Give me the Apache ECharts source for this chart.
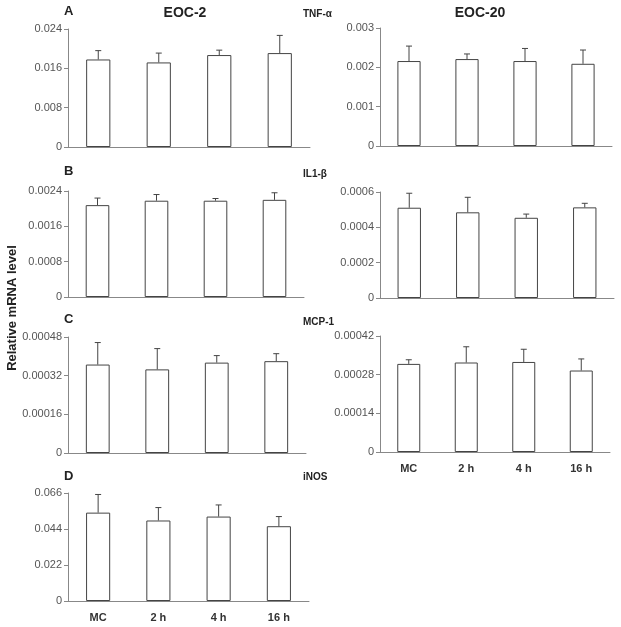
<!DOCTYPE html>
<html>
<head>
<meta charset="utf-8">
<script src="https://cdn.jsdelivr.net/npm/echarts@6/dist/echarts.min.js"></script>
<style>
html, body { margin: 0; padding: 0; background: #fff; }
#chart { width: 621px; height: 627px; }
</style>
</head>
<body>
<div id="chart"></div>
<script>
var categories = ['MC', '2 h', '4 h', '16 h'];

// means and SD
var tnfEoc2 = [0.0178, 0.0172, 0.0187, 0.0191];
var tnfEoc2Sd = [0.0018, 0.0019, 0.0010, 0.0036];
var tnfEoc20 = [0.00216, 0.00221, 0.00216, 0.00209];
var tnfEoc20Sd = [0.00038, 0.00013, 0.00032, 0.00035];
var il1Eoc2 = [0.00208, 0.00218, 0.00218, 0.00220];
var il1Eoc2Sd = [0.00016, 0.00014, 0.00005, 0.00016];
var il1Eoc20 = [0.000511, 0.000485, 0.000454, 0.000513];
var il1Eoc20Sd = [0.000082, 0.000085, 0.000021, 0.000023];
var mcpEoc2 = [0.000366, 0.000346, 0.000374, 0.000380];
var mcpEoc2Sd = [0.000091, 0.000086, 0.000029, 0.000031];
var mcpEoc20 = [0.000319, 0.000324, 0.000326, 0.000295];
var mcpEoc20Sd = [0.000015, 0.000057, 0.000046, 0.000042];
var inosEoc2 = [0.0540, 0.0492, 0.0516, 0.0457];
var inosEoc2Sd = [0.0111, 0.0079, 0.0071, 0.0059];

// y axis max per panel
var yMax = [0.024, 0.003, 0.0024, 0.0006, 0.00048, 0.00042, 0.066];

var panels = [
  { mean: tnfEoc2, sd: tnfEoc2Sd, grid: { left: 68, top: 29, width: 242, height: 118 }, labels: false },
  { mean: tnfEoc20, sd: tnfEoc20Sd, grid: { left: 380, top: 28, width: 232, height: 118 }, labels: false },
  { mean: il1Eoc2, sd: il1Eoc2Sd, grid: { left: 68, top: 191, width: 236, height: 106 }, labels: false },
  { mean: il1Eoc20, sd: il1Eoc20Sd, grid: { left: 380, top: 192, width: 234, height: 106 }, labels: false },
  { mean: mcpEoc2, sd: mcpEoc2Sd, grid: { left: 68, top: 337, width: 238, height: 116 }, labels: false },
  { mean: mcpEoc20, sd: mcpEoc20Sd, grid: { left: 380, top: 336, width: 230, height: 116 }, labels: true },
  { mean: inosEoc2, sd: inosEoc2Sd, grid: { left: 68, top: 493, width: 241, height: 108 }, labels: true }
];

var font = 'Arial, "Liberation Sans", sans-serif';
var grids = [], xAxes = [], yAxes = [], series = [];

function fmt(v) {
  if (v === 0) return '0';
  return String(+v.toPrecision(6));
}

function errBar(params, api) {
  var x = api.value(0);
  var p0 = api.coord([x, api.value(1)]);
  var p1 = api.coord([x, api.value(2)]);
  var cap = 3;
  return {
    type: 'group',
    children: [
      { type: 'line', shape: { x1: p0[0], y1: p0[1], x2: p1[0], y2: p1[1] }, style: { stroke: '#444', lineWidth: 1 } },
      { type: 'line', shape: { x1: p1[0] - cap, y1: p1[1], x2: p1[0] + cap, y2: p1[1] }, style: { stroke: '#444', lineWidth: 1 } }
    ]
  };
}

panels.forEach(function (p, i) {
  grids.push(p.grid);
  xAxes.push({
    type: 'category',
    gridIndex: i,
    data: categories,
    boundaryGap: true,
    axisLine: { lineStyle: { color: '#888', width: 1 } },
    axisTick: { inside: true, length: 3, lineStyle: { color: '#888' } },
    axisLabel: {
      show: p.labels, margin: 11, color: '#333',
      fontFamily: font, fontSize: 11, fontWeight: 'bold'
    },
    splitLine: { show: false }
  });
  yAxes.push({
    type: 'value',
    gridIndex: i,
    min: 0,
    max: yMax[i],
    interval: yMax[i] / 3,
    axisLine: { show: true, lineStyle: { color: '#888', width: 1 } },
    axisTick: { show: true, length: 4, lineStyle: { color: '#888' } },
    axisLabel: { color: '#555', fontFamily: font, fontSize: 11, margin: 6, formatter: fmt },
    splitLine: { show: false }
  });
  series.push({
    type: 'bar',
    xAxisIndex: i,
    yAxisIndex: i,
    data: p.mean,
    barWidth: '40%',
    itemStyle: { color: '#fff', borderColor: '#444', borderWidth: 1 },
    silent: true
  });
  series.push({
    type: 'custom',
    xAxisIndex: i,
    yAxisIndex: i,
    renderItem: errBar,
    data: p.mean.map(function (m, k) { return [k, m, m + p.sd[k]]; }),
    z: 3,
    silent: true
  });
});

function txt(x, y, s, size, align, rot) {
  return {
    type: 'text', x: x, y: y, rotation: rot || 0,
    style: {
      text: s, fill: '#222', font: 'bold ' + size + 'px ' + font,
      textAlign: align || 'left', textVerticalAlign: 'middle'
    }
  };
}

var chart = echarts.init(document.getElementById('chart'), null, { renderer: 'canvas' });
chart.setOption({
  animation: false,
  backgroundColor: '#fff',
  grid: grids,
  xAxis: xAxes,
  yAxis: yAxes,
  series: series,
  graphic: [
    txt(64, 11, 'A', 13),
    txt(185, 13, 'EOC-2', 14, 'center'),
    txt(480, 13, 'EOC-20', 14, 'center'),
    txt(303, 14, 'TNF-α', 10),
    txt(64, 171, 'B', 13),
    txt(303, 174, 'IL1-β', 10),
    txt(64, 319, 'C', 13),
    txt(303, 322, 'MCP-1', 10),
    txt(64, 476, 'D', 13),
    txt(303, 477, 'iNOS', 10),
    txt(12, 308, 'Relative mRNA level', 13, 'center', Math.PI / 2)
  ]
});
</script>
</body>
</html>
